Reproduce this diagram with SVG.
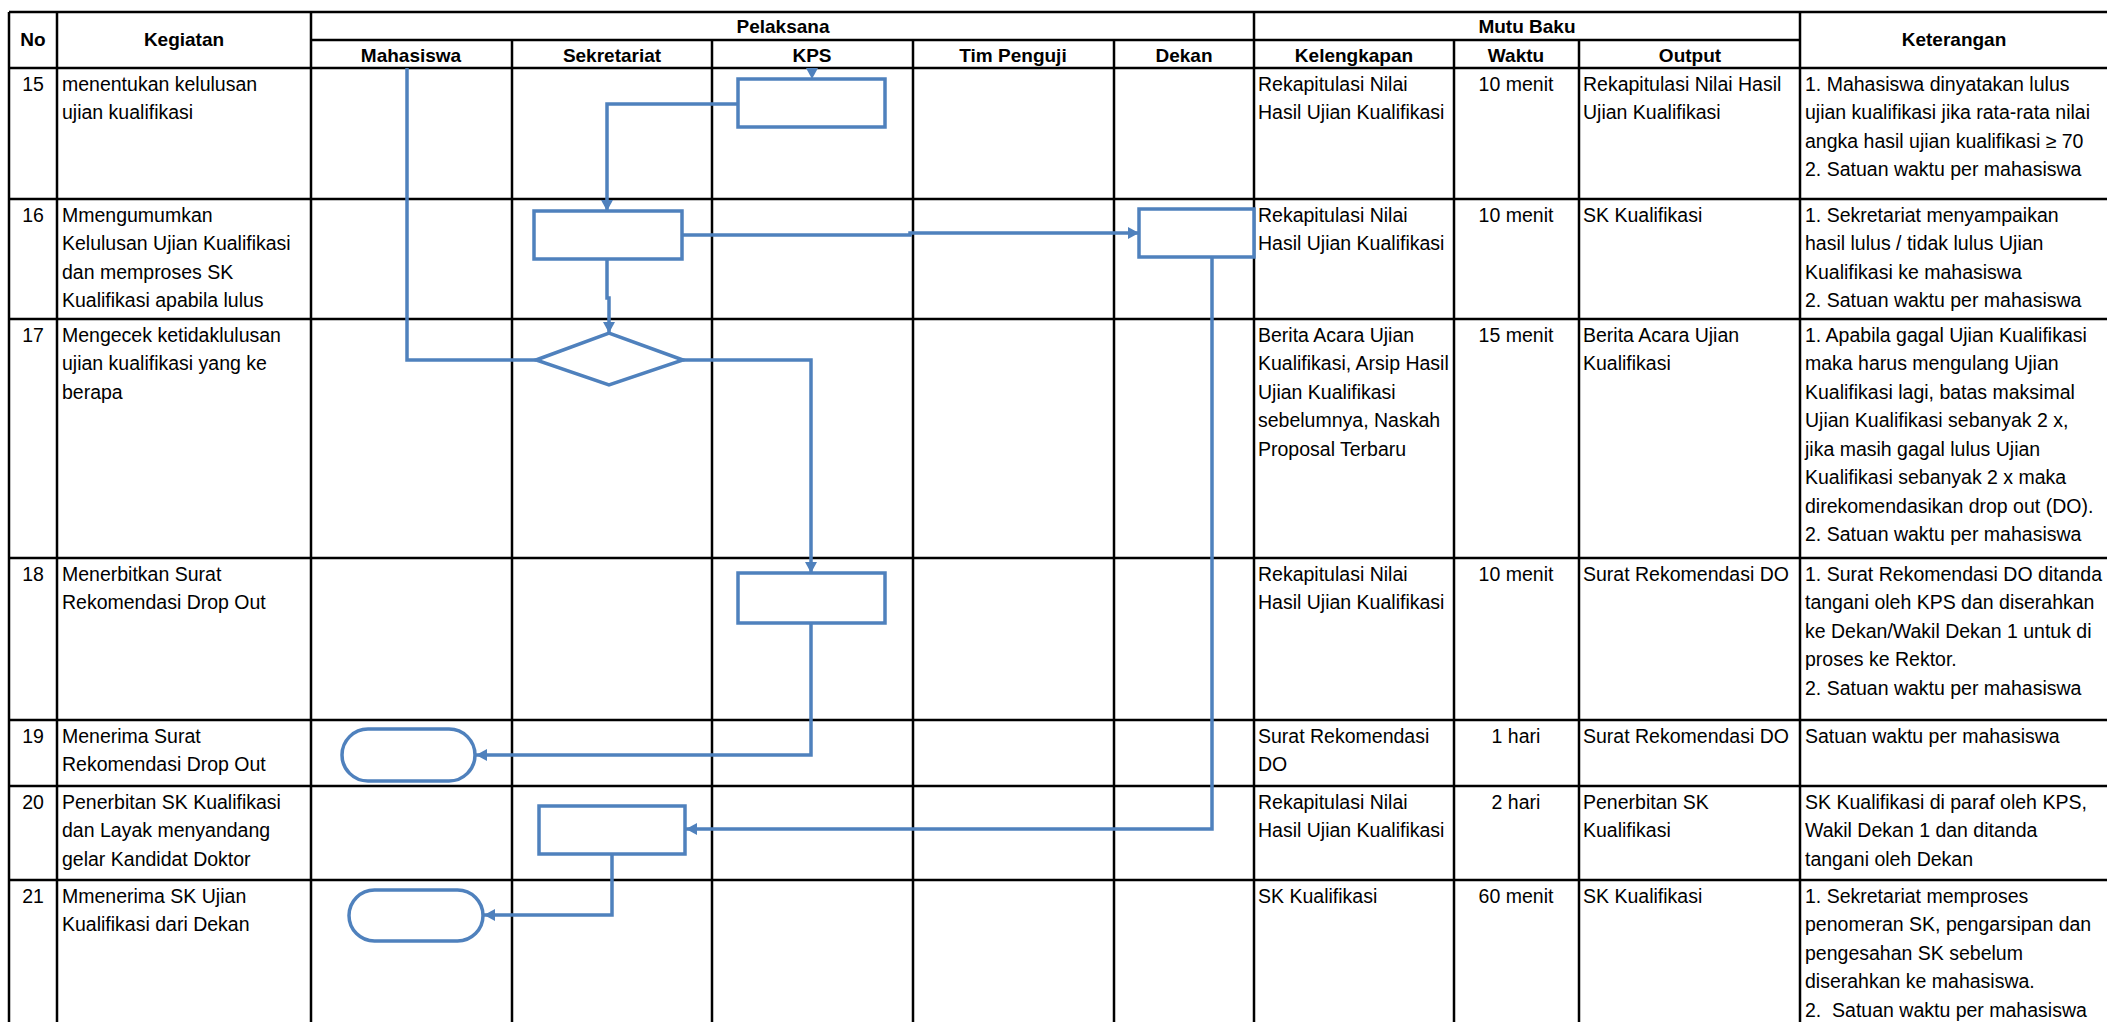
<svg xmlns="http://www.w3.org/2000/svg" width="2107" height="1022" viewBox="0 0 2107 1022">
<defs>
<style>
.grid{stroke:#000;stroke-width:2.5;fill:none}
.shape{stroke:#4F81BD;stroke-width:3.5;fill:#fff}
.conn{stroke:#4F81BD;stroke-width:3.5;fill:none;stroke-linejoin:miter}
text{font-family:"Liberation Sans",Arial,sans-serif;font-size:19.5px;fill:#000}
.h{font-weight:bold;font-size:19px;text-anchor:middle}
.c{text-anchor:middle}
</style>
<marker id="arr" markerUnits="userSpaceOnUse" markerWidth="12" markerHeight="12" refX="11" refY="6" orient="auto">
<path d="M0,0 L11,6 L0,12 z" fill="#4F81BD"/>
</marker>
</defs>
<rect width="2107" height="1022" fill="#fff"/>
<g id="table" class="grid">
<line x1="9" y1="12" x2="2107" y2="12"/>
<line x1="311" y1="40" x2="1800" y2="40"/>
<line x1="9" y1="68" x2="2107" y2="68"/>
<line x1="9" y1="199" x2="2107" y2="199"/>
<line x1="9" y1="319" x2="2107" y2="319"/>
<line x1="9" y1="558" x2="2107" y2="558"/>
<line x1="9" y1="720" x2="2107" y2="720"/>
<line x1="9" y1="786" x2="2107" y2="786"/>
<line x1="9" y1="880" x2="2107" y2="880"/>
<line x1="9" y1="12" x2="9" y2="1022"/>
<line x1="57" y1="12" x2="57" y2="1022"/>
<line x1="311" y1="12" x2="311" y2="1022"/>
<line x1="512" y1="40" x2="512" y2="1022"/>
<line x1="712" y1="40" x2="712" y2="1022"/>
<line x1="913" y1="40" x2="913" y2="1022"/>
<line x1="1114" y1="40" x2="1114" y2="1022"/>
<line x1="1254" y1="12" x2="1254" y2="1022"/>
<line x1="1454" y1="40" x2="1454" y2="1022"/>
<line x1="1579" y1="40" x2="1579" y2="1022"/>
<line x1="1800" y1="12" x2="1800" y2="1022"/>
</g>
<g id="headers">
<text class="h" x="33" y="46">No</text>
<text class="h" x="184" y="46">Kegiatan</text>
<text class="h" x="783" y="33">Pelaksana</text>
<text class="h" x="1527" y="33">Mutu Baku</text>
<text class="h" x="1954" y="46">Keterangan</text>
<text class="h" x="411" y="62">Mahasiswa</text>
<text class="h" x="612" y="62">Sekretariat</text>
<text class="h" x="812" y="62">KPS</text>
<text class="h" x="1013" y="62">Tim Penguji</text>
<text class="h" x="1184" y="62">Dekan</text>
<text class="h" x="1354" y="62">Kelengkapan</text>
<text class="h" x="1516" y="62">Waktu</text>
<text class="h" x="1690" y="62">Output</text>
</g>
<g id="row15">
<text class="c" x="33" y="90.5">15</text>
<text x="62" y="90.5">menentukan kelulusan<tspan x="62" dy="28.5">ujian kualifikasi</tspan></text>
<text x="1258" y="90.5">Rekapitulasi Nilai<tspan x="1258" dy="28.5">Hasil Ujian Kualifikasi</tspan></text>
<text class="c" x="1516" y="90.5">10 menit</text>
<text x="1583" y="90.5">Rekapitulasi Nilai Hasil<tspan x="1583" dy="28.5">Ujian Kualifikasi</tspan></text>
<text x="1805" y="90.5">1. Mahasiswa dinyatakan lulus<tspan x="1805" dy="28.5">ujian kualifikasi jika rata-rata nilai</tspan><tspan x="1805" dy="28.5">angka hasil ujian kualifikasi ≥ 70</tspan><tspan x="1805" dy="28.5">2. Satuan waktu per mahasiswa</tspan></text>
</g>
<g id="row16">
<text class="c" x="33" y="221.5">16</text>
<text x="62" y="221.5">Mmengumumkan<tspan x="62" dy="28.5">Kelulusan Ujian Kualifikasi</tspan><tspan x="62" dy="28.5">dan memproses SK</tspan><tspan x="62" dy="28.5">Kualifikasi apabila lulus</tspan></text>
<text x="1258" y="221.5">Rekapitulasi Nilai<tspan x="1258" dy="28.5">Hasil Ujian Kualifikasi</tspan></text>
<text class="c" x="1516" y="221.5">10 menit</text>
<text x="1583" y="221.5">SK Kualifikasi</text>
<text x="1805" y="221.5">1. Sekretariat menyampaikan<tspan x="1805" dy="28.5">hasil lulus / tidak lulus Ujian</tspan><tspan x="1805" dy="28.5">Kualifikasi ke mahasiswa</tspan><tspan x="1805" dy="28.5">2. Satuan waktu per mahasiswa</tspan></text>
</g>
<g id="row17">
<text class="c" x="33" y="341.5">17</text>
<text x="62" y="341.5">Mengecek ketidaklulusan<tspan x="62" dy="28.5">ujian kualifikasi yang ke</tspan><tspan x="62" dy="28.5">berapa</tspan></text>
<text x="1258" y="341.5">Berita Acara Ujian<tspan x="1258" dy="28.5">Kualifikasi, Arsip Hasil</tspan><tspan x="1258" dy="28.5">Ujian Kualifikasi</tspan><tspan x="1258" dy="28.5">sebelumnya, Naskah</tspan><tspan x="1258" dy="28.5">Proposal Terbaru</tspan></text>
<text class="c" x="1516" y="341.5">15 menit</text>
<text x="1583" y="341.5">Berita Acara Ujian<tspan x="1583" dy="28.5">Kualifikasi</tspan></text>
<text x="1805" y="341.5">1. Apabila gagal Ujian Kualifikasi<tspan x="1805" dy="28.5">maka harus mengulang Ujian</tspan><tspan x="1805" dy="28.5">Kualifikasi lagi, batas maksimal</tspan><tspan x="1805" dy="28.5">Ujian Kualifikasi sebanyak 2 x,</tspan><tspan x="1805" dy="28.5">jika masih gagal lulus Ujian</tspan><tspan x="1805" dy="28.5">Kualifikasi sebanyak 2 x maka</tspan><tspan x="1805" dy="28.5">direkomendasikan drop out (DO).</tspan><tspan x="1805" dy="28.5">2. Satuan waktu per mahasiswa</tspan></text>
</g>
<g id="row18">
<text class="c" x="33" y="580.5">18</text>
<text x="62" y="580.5">Menerbitkan Surat<tspan x="62" dy="28.5">Rekomendasi Drop Out</tspan></text>
<text x="1258" y="580.5">Rekapitulasi Nilai<tspan x="1258" dy="28.5">Hasil Ujian Kualifikasi</tspan></text>
<text class="c" x="1516" y="580.5">10 menit</text>
<text x="1583" y="580.5">Surat Rekomendasi DO</text>
<text x="1805" y="580.5">1. Surat Rekomendasi DO ditanda<tspan x="1805" dy="28.5">tangani oleh KPS dan diserahkan</tspan><tspan x="1805" dy="28.5">ke Dekan/Wakil Dekan 1 untuk di</tspan><tspan x="1805" dy="28.5">proses ke Rektor.</tspan><tspan x="1805" dy="28.5">2. Satuan waktu per mahasiswa</tspan></text>
</g>
<g id="row19">
<text class="c" x="33" y="742.5">19</text>
<text x="62" y="742.5">Menerima Surat<tspan x="62" dy="28.5">Rekomendasi Drop Out</tspan></text>
<text x="1258" y="742.5">Surat Rekomendasi<tspan x="1258" dy="28.5">DO</tspan></text>
<text class="c" x="1516" y="742.5">1 hari</text>
<text x="1583" y="742.5">Surat Rekomendasi DO</text>
<text x="1805" y="742.5">Satuan waktu per mahasiswa</text>
</g>
<g id="row20">
<text class="c" x="33" y="808.5">20</text>
<text x="62" y="808.5">Penerbitan SK Kualifikasi<tspan x="62" dy="28.5">dan Layak menyandang</tspan><tspan x="62" dy="28.5">gelar Kandidat Doktor</tspan></text>
<text x="1258" y="808.5">Rekapitulasi Nilai<tspan x="1258" dy="28.5">Hasil Ujian Kualifikasi</tspan></text>
<text class="c" x="1516" y="808.5">2 hari</text>
<text x="1583" y="808.5">Penerbitan SK<tspan x="1583" dy="28.5">Kualifikasi</tspan></text>
<text x="1805" y="808.5">SK Kualifikasi di paraf oleh KPS,<tspan x="1805" dy="28.5">Wakil Dekan 1 dan ditanda</tspan><tspan x="1805" dy="28.5">tangani oleh Dekan</tspan></text>
</g>
<g id="row21">
<text class="c" x="33" y="902.5">21</text>
<text x="62" y="902.5">Mmenerima SK Ujian<tspan x="62" dy="28.5">Kualifikasi dari Dekan</tspan></text>
<text x="1258" y="902.5">SK Kualifikasi</text>
<text class="c" x="1516" y="902.5">60 menit</text>
<text x="1583" y="902.5">SK Kualifikasi</text>
<text x="1805" y="902.5" xml:space="preserve">1. Sekretariat memproses<tspan x="1805" dy="28.5">penomeran SK, pengarsipan dan</tspan><tspan x="1805" dy="28.5">pengesahan SK sebelum</tspan><tspan x="1805" dy="28.5">diserahkan ke mahasiswa.</tspan><tspan x="1805" dy="28.5">2.  Satuan waktu per mahasiswa</tspan></text>
</g>
<g id="connectors">
<path class="conn" d="M407,68 V360 H536"/>
<polygon points="806,68 818,68 812,79" fill="#4F81BD"/>
<path class="conn" d="M738,104 H607 V211" marker-end="url(#arr)"/>
<path class="conn" d="M682,235 H910 V233 H1139" marker-end="url(#arr)"/>
<path class="conn" d="M607,259 V298 H609 V333" marker-end="url(#arr)"/>
<path class="conn" d="M683,360 H811 V573" marker-end="url(#arr)"/>
<path class="conn" d="M811,623 V755 H476" marker-end="url(#arr)"/>
<path class="conn" d="M1212,257 V829 H686" marker-end="url(#arr)"/>
<path class="conn" d="M612,854 V915 H484" marker-end="url(#arr)"/>
</g>
<g id="node-kps-15"><rect class="shape" x="738" y="79" width="147" height="48"/></g>
<g id="node-sek-16"><rect class="shape" x="534" y="211" width="148" height="48"/></g>
<g id="node-dekan-16"><rect class="shape" x="1139" y="209" width="115" height="48"/></g>
<g id="node-dec-17"><polygon class="shape" points="536,360 609,333 683,360 609,385"/></g>
<g id="node-kps-18"><rect class="shape" x="738" y="573" width="147" height="50"/></g>
<g id="node-mhs-19"><rect class="shape" x="342" y="729" width="133" height="52" rx="26" ry="26"/></g>
<g id="node-sek-20"><rect class="shape" x="539" y="806" width="146" height="48"/></g>
<g id="node-mhs-21"><rect class="shape" x="349" y="890" width="134" height="51" rx="25.5" ry="25.5"/></g>
</svg>
